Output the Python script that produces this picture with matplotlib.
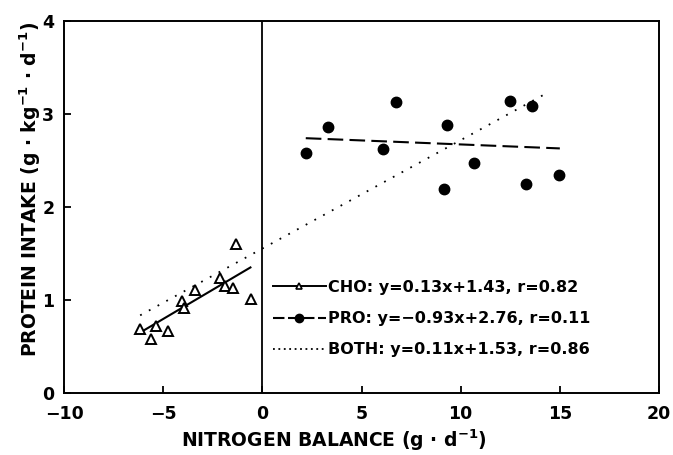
import matplotlib
matplotlib.use("Agg")
import matplotlib.pyplot as plt
from matplotlib.lines import Line2D

plt.rcParams['font.family'] = ['DejaVu Sans']
plt.rcParams['font.weight'] = 'bold'
plt.rcParams['axes.labelweight'] = 'bold'
plt.rcParams['mathtext.default'] = 'regular'

# CHO group (open triangles)
cho_x = [-6.16, -5.62, -5.37, -4.78, -4.04, -3.95, -3.38, -2.12, -1.89, -1.46, -1.31, -0.59]
cho_y = [0.69, 0.58, 0.72, 0.67, 0.99, 0.91, 1.11, 1.24, 1.15, 1.13, 1.60, 1.01]

# PRO group (filled circles)
pro_x = [2.19, 3.33, 6.75, 6.06, 9.29, 9.18, 10.66, 12.47, 13.60, 13.28, 14.98]
pro_y = [2.58, 2.86, 3.13, 2.62, 2.88, 2.19, 2.47, 3.14, 3.09, 2.25, 2.34]

# regression line end points as drawn
cho_fit_x = [-6.0, -0.6]
cho_fit_y = [0.67, 1.35]
pro_fit_x = [2.19, 15.0]
pro_fit_y = [2.74, 2.63]
both_fit_x = [-6.16, 14.3]
both_fit_y = [0.835, 3.22]

labels = ["CHO: y=0.13x+1.43, r=0.82",
          "PRO: y=\u22120.93x+2.76, r=0.11",
          "BOTH: y=0.11x+1.53, r=0.86"]

fig = plt.figure(figsize=(6.73, 4.55), dpi=100)
ax = fig.add_axes([0.0951, 0.1363, 0.8841, 0.8175])

ax.axvline(0, color='black', lw=1.3)

ax.plot(cho_fit_x, cho_fit_y, color='black', lw=1.5)
ax.plot(pro_fit_x, pro_fit_y, color='black', lw=1.5, linestyle=(0, (7.5, 3)))
ax.plot(both_fit_x, both_fit_y, color='black', lw=1.3, linestyle=(0, (1, 4.5)))

ax.plot(cho_x, cho_y, linestyle='none', marker='^', markersize=6.5,
        markerfacecolor='white', markeredgecolor='black', markeredgewidth=1.4)
ax.plot(pro_x, pro_y, linestyle='none', marker='o', markersize=7.5,
        markerfacecolor='black', markeredgecolor='black')

ax.set_xlim(-10, 20)
ax.set_ylim(0, 4)
ax.set_xticks([-10, -5, 0, 5, 10, 15, 20])
ax.set_yticks([0, 1, 2, 3, 4])

for s in ax.spines.values():
    s.set_linewidth(1.4)
ax.tick_params(direction='in', length=5, width=1.3, labelsize=12.5)
ax.tick_params(axis='x', pad=9)
ax.tick_params(axis='y', pad=7)

ax.set_xlabel("NITROGEN BALANCE (g \u00b7 d$^{-1}$)", fontsize=13.5, fontweight='bold')
ax.set_ylabel("PROTEIN INTAKE (g \u00b7 kg$^{-1}$ \u00b7 d$^{-1}$)", fontsize=13.5, fontweight='bold')
ax.xaxis.set_label_coords(0.454, -0.094)
ax.yaxis.set_label_coords(-0.036, 0.548)

handles = [
    Line2D([], [], color='black', lw=1.4, marker='^', markersize=4.5,
           markerfacecolor='white', markeredgecolor='black', markeredgewidth=1.2),
    Line2D([], [], color='black', lw=1.5, linestyle=(0, (5.5, 1.7)), marker='o',
           markersize=6, markerfacecolor='black'),
    Line2D([], [], color='black', lw=1.3, linestyle=(0, (1, 2))),
]
ax.legend(handles, labels, loc='upper left', bbox_to_anchor=(0.351, 0.304),
          frameon=False, fontsize=11.5, handlelength=3.3, handletextpad=0.15,
          labelspacing=1.02, borderaxespad=0, borderpad=0)

fig.savefig("out.png", dpi=100)
